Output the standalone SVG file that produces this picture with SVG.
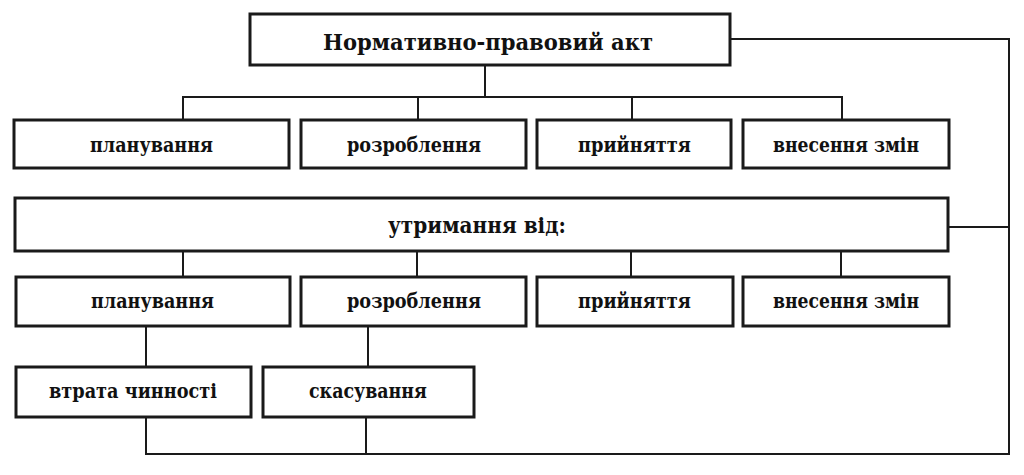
<svg xmlns="http://www.w3.org/2000/svg" width="1024" height="475" viewBox="0 0 1024 475">
<style>
.box{fill:#fff;stroke:#1a1a1a;stroke-width:3}
.t{font-family:"DejaVu Serif","Liberation Serif",serif;font-weight:bold;fill:#111;text-anchor:middle;font-size:21px}
.big{font-size:22.5px}
.c{fill:none;stroke:#1a1a1a;stroke-width:2}
</style>
<rect width="1024" height="475" fill="#fff"/>
<g id="connectors">
<path class="c" d="M485 65V97M183 120V97H842V120M418 97V120M632 97V120"/>
<path class="c" d="M730 39H1009V454H146V417M366 417V454M948 227H1009"/>
<path class="c" d="M183 251V277M417 251V277M631 251V277M841 251V277"/>
<path class="c" d="M146 326V367M368 326V367"/>
</g>
<g id="n-act"><rect class="box" x="250" y="14" width="480" height="51"/><text class="t big" x="488" y="49.5" textLength="330" lengthAdjust="spacingAndGlyphs">Нормативно-правовий акт</text></g>
<g id="n-plan1"><rect class="box" x="14" y="120" width="275" height="48"/><text class="t" x="151.5" y="152" textLength="123" lengthAdjust="spacingAndGlyphs">планування</text></g>
<g id="n-rozr1"><rect class="box" x="301" y="120" width="225" height="48"/><text class="t" x="414" y="152" textLength="134" lengthAdjust="spacingAndGlyphs">розроблення</text></g>
<g id="n-pryin1"><rect class="box" x="537" y="120" width="194" height="48"/><text class="t" x="634.5" y="152" textLength="113" lengthAdjust="spacingAndGlyphs">прийняття</text></g>
<g id="n-zmin1"><rect class="box" x="743" y="120" width="206" height="48"/><text class="t" x="846" y="152" textLength="146" lengthAdjust="spacingAndGlyphs">внесення змін</text></g>
<g id="n-utr"><rect class="box" x="15" y="198" width="933" height="53"/><text class="t big" x="477" y="233" textLength="178" lengthAdjust="spacingAndGlyphs">утримання від:</text></g>
<g id="n-plan2"><rect class="box" x="16" y="277" width="274" height="49"/><text class="t" x="152.5" y="308" textLength="123" lengthAdjust="spacingAndGlyphs">планування</text></g>
<g id="n-rozr2"><rect class="box" x="301" y="277" width="225" height="49"/><text class="t" x="414" y="308" textLength="134" lengthAdjust="spacingAndGlyphs">розроблення</text></g>
<g id="n-pryin2"><rect class="box" x="537" y="277" width="196" height="49"/><text class="t" x="634.5" y="308" textLength="113" lengthAdjust="spacingAndGlyphs">прийняття</text></g>
<g id="n-zmin2"><rect class="box" x="743" y="277" width="206" height="49"/><text class="t" x="846" y="308" textLength="146" lengthAdjust="spacingAndGlyphs">внесення змін</text></g>
<g id="n-vtrata"><rect class="box" x="16" y="367" width="235" height="50"/><text class="t" x="133" y="398" textLength="168" lengthAdjust="spacingAndGlyphs">втрата чинності</text></g>
<g id="n-skas"><rect class="box" x="263" y="367" width="211" height="50"/><text class="t" x="368" y="398" textLength="118" lengthAdjust="spacingAndGlyphs">скасування</text></g>
</svg>
